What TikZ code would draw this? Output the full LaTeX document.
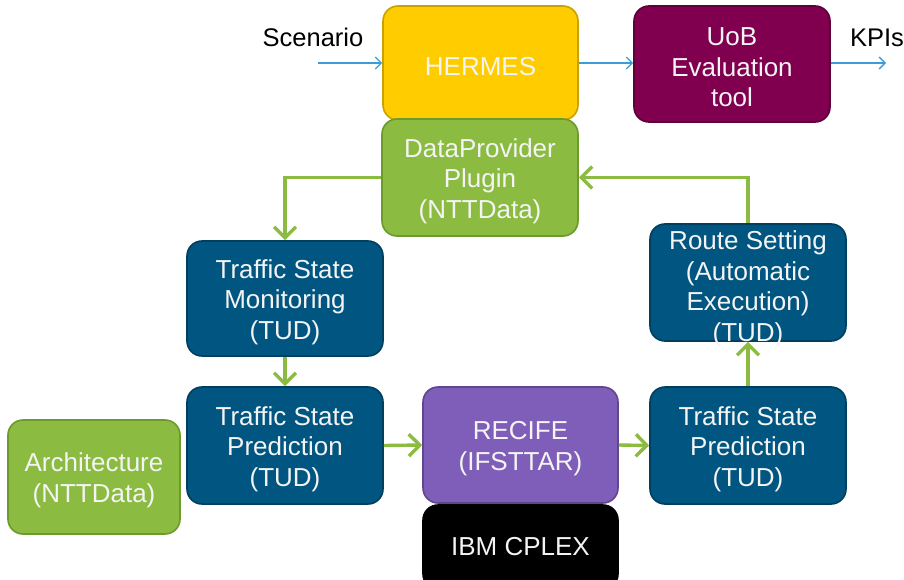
\documentclass[tikz,border=0pt]{standalone}
\usepackage{fontspec}
\setmainfont{Liberation Sans}
\usetikzlibrary{arrows.meta}
\definecolor{hyel}{HTML}{FFCC00}
\definecolor{hyelb}{HTML}{C9A200}
\definecolor{uob}{HTML}{80004F}
\definecolor{uobb}{HTML}{5E003A}
\definecolor{grn}{HTML}{8BBC41}
\definecolor{grnb}{HTML}{6C9A2C}
\definecolor{blu}{HTML}{005681}
\definecolor{blub}{HTML}{003F5F}
\definecolor{pur}{HTML}{7F5EB9}
\definecolor{purb}{HTML}{60468F}
\definecolor{arrblue}{HTML}{3D9BD8}
\definecolor{txtw}{HTML}{F4F4F4}
\tikzset{
  box/.style={rectangle, rounded corners=15pt, line width=1.6pt, inner sep=0pt},
  garrow/.style={draw=grn, line width=3.4pt, -{Straight Barb[length=11pt,width=22pt,line width=3.4pt]}},
  barrow/.style={draw=arrblue, line width=1.3pt, -{Straight Barb[length=6pt,width=12pt,line width=1.3pt]}},
  lbl/.style={font=\fontsize{25.5}{30}\selectfont, text=black, inner sep=0pt},
  boxtext/.style={text=txtw, align=center, font=\fontsize{26}{30.5}\selectfont, inner sep=0pt}
}
% #1 name, #2 centre, #3 fill, #4 border, #5 width, #6 height, #7 text
\newcommand\mkbox[7]{%
  \node[box, fill=#3, draw=#4, minimum width=#5pt, minimum height=#6pt] (#1) at (#2) {};
  \node[boxtext] (#1-t) at ([yshift=-3.5pt]#1.center) {#7};}
\begin{document}
\begin{tikzpicture}[x=1pt,y=-1pt]
\useasboundingbox (0,0) rectangle (904,580);
\mkbox{hermes}{480.5,63}{hyel}{hyelb}{195}{114}{HERMES}
\mkbox{uobt}{732,64}{uob}{uobb}{196}{116}{UoB\\Evaluation\\tool}
\mkbox{dp}{480,177.5}{grn}{grnb}{196}{117}{DataProvider\\Plugin\\(NTTData)}
\mkbox{tsm}{285,298.5}{blu}{blub}{196}{115}{Traffic State\\Monitoring\\(TUD)}
\mkbox{tspl}{285,445.5}{blu}{blub}{196}{117}{Traffic State\\Prediction\\(TUD)}
\mkbox{arch}{94,477}{grn}{grnb}{172}{114}{Architecture\\(NTTData)}
\mkbox{recife}{520.5,445}{pur}{purb}{195}{116}{RECIFE\\(IFSTTAR)}
\mkbox{cplex}{520.5,547}{black}{black}{195}{84}{}
\node[boxtext] (cplex-label) at (520.5,546.5) {IBM CPLEX};
\mkbox{tspr}{748,445.5}{blu}{blub}{196}{117}{Traffic State\\Prediction\\(TUD)}
\node[box, fill=blu, draw=blub, minimum width=196pt, minimum height=117pt] (route) at (748,282.5) {};
\node[boxtext] (routetxt) at (748,289) {Route Setting\\(Automatic\\Execution)\\(TUD)};
\node[lbl] (scen) at (313,37.5) {Scenario};
\node[lbl] (kpis) at (877,37.5) {KPIs};
\coordinate (sin) at (318,63);
\coordinate (sout) at (886,63);
\draw[barrow] (sin) -- (hermes.west);
\draw[barrow] (hermes.east) -- (hermes.east -| uobt.west);
\draw[barrow] (uobt.east |- hermes.east) -- (sout);
\draw[garrow] (dp.west) -| (tsm.north);
\draw[garrow] (tsm.south) -- (tspl.north);
\draw[garrow] (tspl.east) -- (recife.west);
\draw[garrow] (recife.east) -- (tspr.west);
\draw[garrow] (tspr.north) -- (route.south);
\draw[garrow] (route.north) |- (dp.east);
\end{tikzpicture}
\end{document}
